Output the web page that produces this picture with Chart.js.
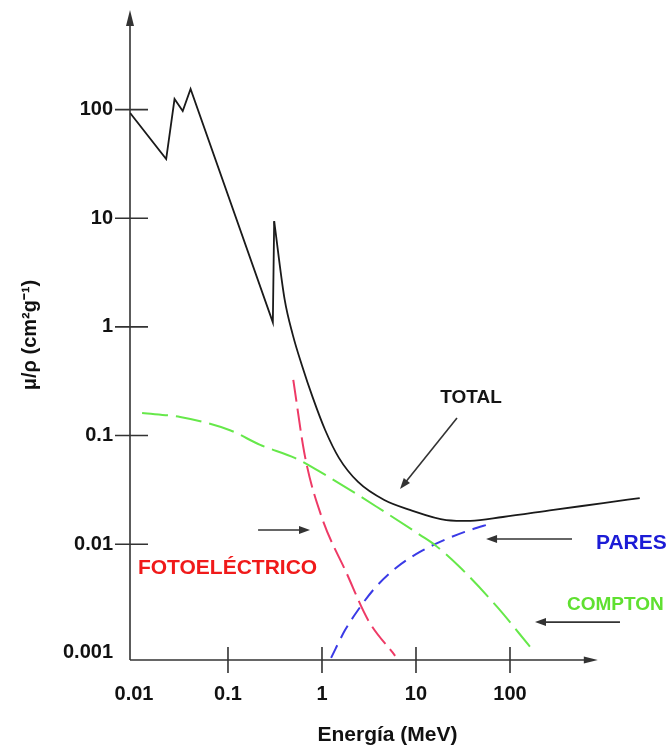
<!DOCTYPE html>
<html>
<head>
<meta charset="utf-8">
<script src="https://cdn.jsdelivr.net/npm/chart.js@4"></script>
<style>
  html, body { margin: 0; padding: 0; background: #fff; }
  #wrap { width: 667px; height: 748px; }
</style>
</head>
<body>
<div id="wrap"><canvas id="grafico" width="667" height="748"></canvas></div>
<script>
// Coeficiente de atenuación másico vs energía (escala log-log)
// total: tramo de bordes de absorción (quebrado) y tramo suave
const TOTAL_EDGE_E  = [0.0091, 0.022, 0.027, 0.033, 0.040, 0.30, 0.31];
const TOTAL_EDGE_MU = [93, 35, 125, 97, 155, 1.1, 9.4];
const TOTAL_E  = [0.31, 0.40, 0.49, 0.61, 0.80, 1.08, 1.52, 2.42, 4.6, 8.6, 21, 38, 84, 290, 980, 2400];
const TOTAL_MU = [9.4, 1.8, 0.84, 0.446, 0.222, 0.1125, 0.062, 0.0374, 0.0255, 0.0207, 0.0167, 0.0164, 0.0178, 0.0207, 0.0239, 0.0266];

const COMPTON_E  = [0.0122, 0.031, 0.105, 0.22, 0.52, 0.89, 2.0, 3.85, 11, 16, 29, 73, 163];
const COMPTON_MU = [0.161, 0.148, 0.112, 0.082, 0.062, 0.048, 0.0315, 0.022, 0.0122, 0.0098, 0.0062, 0.00265, 0.00114];

const PHOTO_E  = [0.495, 0.66, 0.99, 1.83, 3.1, 6.0];
const PHOTO_MU = [0.325, 0.064, 0.0179, 0.0054, 0.0020, 0.00094];

const PARES_E  = [1.25, 1.76, 2.42, 3.66, 6.3, 11, 18, 33, 66];
const PARES_MU = [0.0009, 0.00162, 0.00248, 0.00396, 0.00617, 0.0085, 0.0105, 0.013, 0.0157];

const X_TICKS = [0.01, 0.1, 1, 10, 100];
const X_TICK_LABELS = ['0.01', '0.1', '1', '10', '100'];
const Y_TICKS = [0.001, 0.01, 0.1, 1, 10, 100];
const Y_TICK_LABELS = ['0.001', '0.01', '0.1', '1', '10', '100'];

const X_TITLE = 'Energía (MeV)';
const Y_TITLE = 'μ/ρ (cm²g⁻¹)';

// etiquetas y flechas, en coordenadas de datos
const notes = [
  { text: 'TOTAL',         e: 38.5,   mu: 0.222,   color: '#151515', size: 19, align: 'center' },
  { text: 'FOTOELÉCTRICO', e: 0.0110, mu: 0.00604, color: '#f01a1a', size: 21, align: 'left' },
  { text: 'PARES',         e: 822,    mu: 0.0103,  color: '#1c1cd6', size: 21, align: 'left' },
  { text: 'COMPTON',       e: 404,    mu: 0.00276, color: '#5fe030', size: 19, align: 'left' }
];
const pointers = [
  { from: [27.3, 0.145],  to: [6.76, 0.0322] },
  { from: [0.209, 0.0135], to: [0.745, 0.0135] },
  { from: [457, 0.01117], to: [55.6, 0.01117] },
  { from: [1479, 0.00192], to: [184.5, 0.00192] }
];
const X_ARROW_END = 860;

const FONT = '"Liberation Sans", Arial, sans-serif';
const AXIS_COLOR = '#333';

function pts(xs, ys) {
  return xs.map((x, i) => ({ x: x, y: ys[i] }));
}

function drawArrow(ctx, x1, y1, x2, y2, head, half) {
  const a = Math.atan2(y2 - y1, x2 - x1);
  const c = Math.cos(a), s = Math.sin(a);
  ctx.beginPath();
  ctx.moveTo(x1, y1);
  ctx.lineTo(x2 - c * head * 0.8, y2 - s * head * 0.8);
  ctx.stroke();
  ctx.beginPath();
  ctx.moveTo(x2, y2);
  ctx.lineTo(x2 - head * c + half * s, y2 - head * s - half * c);
  ctx.lineTo(x2 - head * c - half * s, y2 - head * s + half * c);
  ctx.closePath();
  ctx.fill();
}

const axesPlugin = {
  id: 'ejes',
  beforeDatasetsDraw(chart) {
    const { ctx, chartArea, scales } = chart;
    const x = scales.x, y = scales.y;
    ctx.save();
    ctx.strokeStyle = AXIS_COLOR;
    ctx.fillStyle = AXIS_COLOR;
    ctx.lineWidth = 1.6;
    // eje y con flecha
    drawArrow(ctx, chartArea.left, chartArea.bottom, chartArea.left, chartArea.top, 16, 4);
    // eje x con flecha
    drawArrow(ctx, chartArea.left, chartArea.bottom, x.getPixelForValue(X_ARROW_END), chartArea.bottom, 14, 3.5);
    ctx.beginPath();
    Y_TICKS.forEach(v => {
      if (v === Y_TICKS[0]) return;
      const py = y.getPixelForValue(v);
      ctx.moveTo(chartArea.left - 15, py);
      ctx.lineTo(chartArea.left + 18, py);
    });
    X_TICKS.forEach(v => {
      if (v === X_TICKS[0]) return;
      const px = x.getPixelForValue(v);
      ctx.moveTo(px, chartArea.bottom - 13);
      ctx.lineTo(px, chartArea.bottom + 13);
    });
    ctx.stroke();
    ctx.restore();
  },
  afterDatasetsDraw(chart) {
    const { ctx, scales } = chart;
    const x = scales.x, y = scales.y;
    ctx.save();
    ctx.strokeStyle = AXIS_COLOR;
    ctx.fillStyle = AXIS_COLOR;
    ctx.lineWidth = 1.6;
    pointers.forEach(p => {
      drawArrow(ctx,
        x.getPixelForValue(p.from[0]), y.getPixelForValue(p.from[1]),
        x.getPixelForValue(p.to[0]), y.getPixelForValue(p.to[1]), 11, 4);
    });
    ctx.textBaseline = 'middle';
    notes.forEach(n => {
      ctx.font = 'bold ' + n.size + 'px ' + FONT;
      ctx.fillStyle = n.color;
      ctx.textAlign = n.align;
      ctx.fillText(n.text, x.getPixelForValue(n.e), y.getPixelForValue(n.mu));
    });
    ctx.restore();
  }
};

new Chart(document.getElementById('grafico'), {
  type: 'line',
  data: {
    datasets: [
      { label: 'Total (bordes)', data: pts(TOTAL_EDGE_E, TOTAL_EDGE_MU), borderColor: '#1a1a1a', borderWidth: 1.8, tension: 0, pointRadius: 0 },
      { label: 'Total', data: pts(TOTAL_E, TOTAL_MU), borderColor: '#1a1a1a', borderWidth: 1.8, cubicInterpolationMode: 'monotone', pointRadius: 0 },
      { label: 'Compton', data: pts(COMPTON_E, COMPTON_MU), borderColor: '#66e84a', borderWidth: 2, borderDash: [26, 8], cubicInterpolationMode: 'monotone', pointRadius: 0 },
      { label: 'Fotoeléctrico', data: pts(PHOTO_E, PHOTO_MU), borderColor: '#ee3a66', borderWidth: 2, borderDash: [22, 7], cubicInterpolationMode: 'monotone', pointRadius: 0 },
      { label: 'Pares', data: pts(PARES_E, PARES_MU), borderColor: '#3a3ae6', borderWidth: 2, borderDash: [14, 8], cubicInterpolationMode: 'monotone', pointRadius: 0 }
    ]
  },
  options: {
    responsive: false,
    animation: false,
    layout: { padding: { top: 10, right: 22, bottom: 0, left: 0 } },
    plugins: { legend: { display: false }, tooltip: { enabled: false } },
    elements: { line: { fill: false } },
    scales: {
      x: {
        type: 'logarithmic',
        min: 0.00907,
        max: 2730,
        grid: { display: false, drawTicks: false },
        border: { display: false },
        afterBuildTicks: (axis) => { axis.ticks = X_TICKS.map(v => ({ value: v })); },
        afterFit: (axis) => { axis.height = 88; axis.paddingLeft = 0; axis.paddingRight = 0; },
        ticks: {
          autoSkip: false,
          maxRotation: 0,
          padding: 22,
          color: '#111',
          font: { family: FONT, size: 20, weight: 'bold' },
          callback: (value, i) => X_TICK_LABELS[i]
        },
        title: {
          display: true,
          text: X_TITLE,
          color: '#111',
          padding: { top: 0, bottom: 0 },
          font: { family: FONT, size: 21, weight: 'bold' }
        }
      },
      y: {
        type: 'logarithmic',
        min: 0.00086,
        max: 825,
        grid: { display: false, drawTicks: false },
        border: { display: false },
        afterBuildTicks: (axis) => { axis.ticks = Y_TICKS.map(v => ({ value: v })); },
        afterFit: (axis) => { axis.width = 130; axis.paddingTop = 0; axis.paddingBottom = 0; },
        ticks: {
          autoSkip: false,
          padding: 17,
          color: '#111',
          font: { family: FONT, size: 20, weight: 'bold' },
          callback: (value, i) => Y_TICK_LABELS[i]
        },
        title: {
          display: true,
          text: Y_TITLE,
          color: '#111',
          padding: { top: 18, bottom: 0 },
          font: { family: FONT, size: 20, weight: 'bold' }
        }
      }
    }
  },
  plugins: [axesPlugin]
});
</script>
</body>
</html>
